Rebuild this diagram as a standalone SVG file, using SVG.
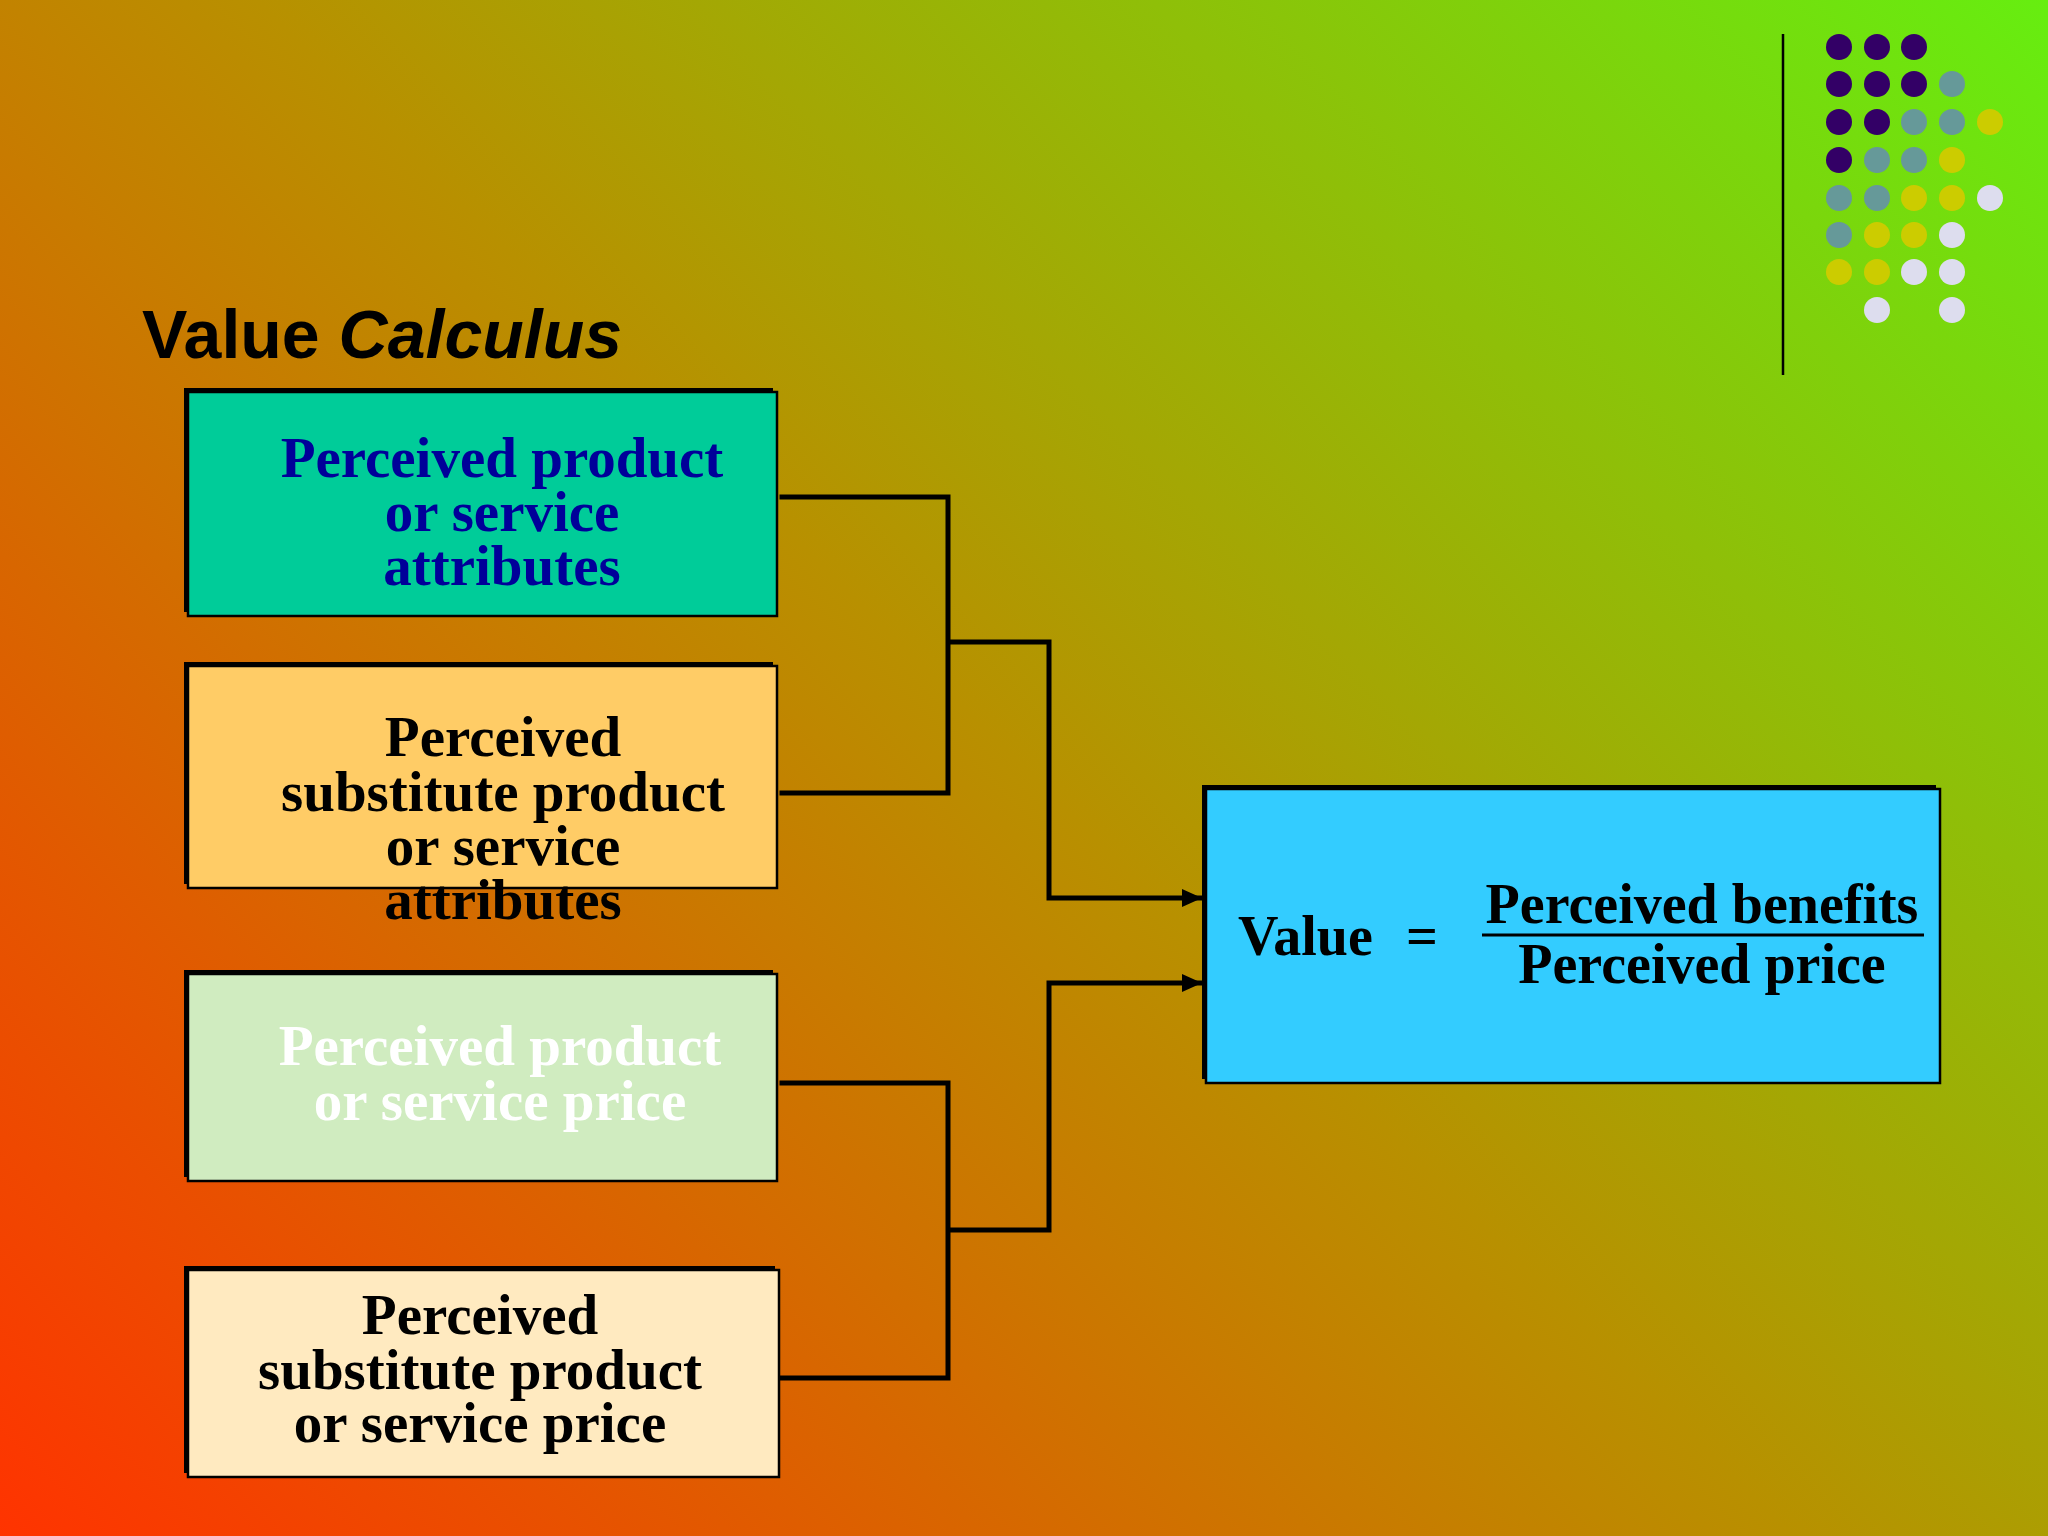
<svg xmlns="http://www.w3.org/2000/svg" width="2048" height="1536" viewBox="0 0 2048 1536">
<defs>
<linearGradient id="bg" gradientUnits="userSpaceOnUse" x1="0" y1="1536" x2="1792" y2="-256">
<stop offset="0" stop-color="#FF3300"/>
<stop offset="0.5" stop-color="#B89000"/>
<stop offset="1" stop-color="#66EE10"/>
</linearGradient>
<marker id="arr" markerUnits="userSpaceOnUse" markerWidth="24" markerHeight="24" viewBox="0 0 24 24" refX="20" refY="9" orient="auto">
<path d="M0,0 L20,9 L0,18 Z" fill="#000"/>
</marker>
<style>
.sh{fill:#000}
.bx{stroke:#000;stroke-width:2.5}
.t{font-family:"Liberation Serif","Times New Roman",serif;font-weight:bold;font-size:57px;text-anchor:middle}
.c{fill:none;stroke:#000;stroke-width:5;stroke-linecap:square;stroke-linejoin:miter}
.a{stroke-linecap:butt}
.p{fill:#330066}.g{fill:#669999}.y{fill:#CCCC00}.w{fill:#DDDDEE}
</style>
</defs>
<rect x="0" y="0" width="2048" height="1536" fill="url(#bg)"/>

<g id="decor">
<line x1="1783" y1="34" x2="1783" y2="375" stroke="#000" stroke-width="2.5"/>
<circle class="p" cx="1839" cy="47" r="13"/><circle class="p" cx="1877" cy="47" r="13"/><circle class="p" cx="1914" cy="47" r="13"/>
<circle class="p" cx="1839" cy="84" r="13"/><circle class="p" cx="1877" cy="84" r="13"/><circle class="p" cx="1914" cy="84" r="13"/><circle class="g" cx="1952" cy="84" r="13"/>
<circle class="p" cx="1839" cy="122" r="13"/><circle class="p" cx="1877" cy="122" r="13"/><circle class="g" cx="1914" cy="122" r="13"/><circle class="g" cx="1952" cy="122" r="13"/><circle class="y" cx="1990" cy="122" r="13"/>
<circle class="p" cx="1839" cy="160" r="13"/><circle class="g" cx="1877" cy="160" r="13"/><circle class="g" cx="1914" cy="160" r="13"/><circle class="y" cx="1952" cy="160" r="13"/>
<circle class="g" cx="1839" cy="198" r="13"/><circle class="g" cx="1877" cy="198" r="13"/><circle class="y" cx="1914" cy="198" r="13"/><circle class="y" cx="1952" cy="198" r="13"/><circle class="w" cx="1990" cy="198" r="13"/>
<circle class="g" cx="1839" cy="235" r="13"/><circle class="y" cx="1877" cy="235" r="13"/><circle class="y" cx="1914" cy="235" r="13"/><circle class="w" cx="1952" cy="235" r="13"/>
<circle class="y" cx="1839" cy="272" r="13"/><circle class="y" cx="1877" cy="272" r="13"/><circle class="w" cx="1914" cy="272" r="13"/><circle class="w" cx="1952" cy="272" r="13"/>
<circle class="w" cx="1877" cy="310" r="13"/><circle class="w" cx="1952" cy="310" r="13"/>
</g>

<g id="title">
<text x="142" y="358" font-family="Liberation Sans, Arial, sans-serif" font-weight="bold" font-size="68" fill="#000">Value <tspan font-style="italic">Calculus</tspan></text>
</g>

<g id="connectors">
<polyline class="c" points="782,497 948,497 948,793 782,793"/>
<polyline class="c a" points="948,642 1049,642 1049,898 1202,898" marker-end="url(#arr)"/>
<polyline class="c" points="782,1083 948,1083 948,1378 782,1378"/>
<polyline class="c a" points="948,1230 1049,1230 1049,983 1202,983" marker-end="url(#arr)"/>
</g>

<g id="node-attributes">
<rect class="sh" x="184" y="388" width="589" height="224"/>
<rect class="bx" x="188" y="392" width="589" height="224" fill="#00CC99"/>
<text class="t" fill="#000099"><tspan x="502" y="477">Perceived product</tspan><tspan x="502" y="531">or service</tspan><tspan x="502" y="585">attributes</tspan></text>
</g>

<g id="node-substitute-attributes">
<rect class="sh" x="184" y="662" width="589" height="222"/>
<rect class="bx" x="188" y="666" width="589" height="222" fill="#FFCC66"/>
<text class="t" fill="#000"><tspan x="503" y="756">Perceived</tspan><tspan x="503" y="811">substitute product</tspan><tspan x="503" y="865">or service</tspan><tspan x="503" y="919">attributes</tspan></text>
</g>

<g id="node-price">
<rect class="sh" x="184" y="970" width="589" height="207"/>
<rect class="bx" x="188" y="974" width="589" height="207" fill="#D0ECC0"/>
<text class="t" fill="#FFFFFF"><tspan x="500" y="1065">Perceived product</tspan><tspan x="500" y="1120">or service price</tspan></text>
</g>

<g id="node-substitute-price">
<rect class="sh" x="184" y="1266" width="591" height="207"/>
<rect class="bx" x="188" y="1270" width="591" height="207" fill="#FFEAC0"/>
<text class="t" fill="#000"><tspan x="480" y="1334">Perceived</tspan><tspan x="480" y="1389">substitute product</tspan><tspan x="480" y="1442">or service price</tspan></text>
</g>

<g id="node-value">
<rect class="sh" x="1202" y="785" width="734" height="294"/>
<rect class="bx" x="1206" y="789" width="734" height="294" fill="#33CCFF"/>
<text class="t" x="1238" y="955" style="text-anchor:start;font-size:56px" fill="#000">Value</text>
<text class="t" x="1422" y="955" style="font-size:56px" fill="#000">=</text>
<text class="t" x="1702" y="923" style="font-size:56px" fill="#000">Perceived benefits</text>
<line x1="1482" y1="935" x2="1924" y2="935" stroke="#000" stroke-width="3"/>
<text class="t" x="1702" y="983" style="font-size:56px" fill="#000">Perceived price</text>
</g>
</svg>
